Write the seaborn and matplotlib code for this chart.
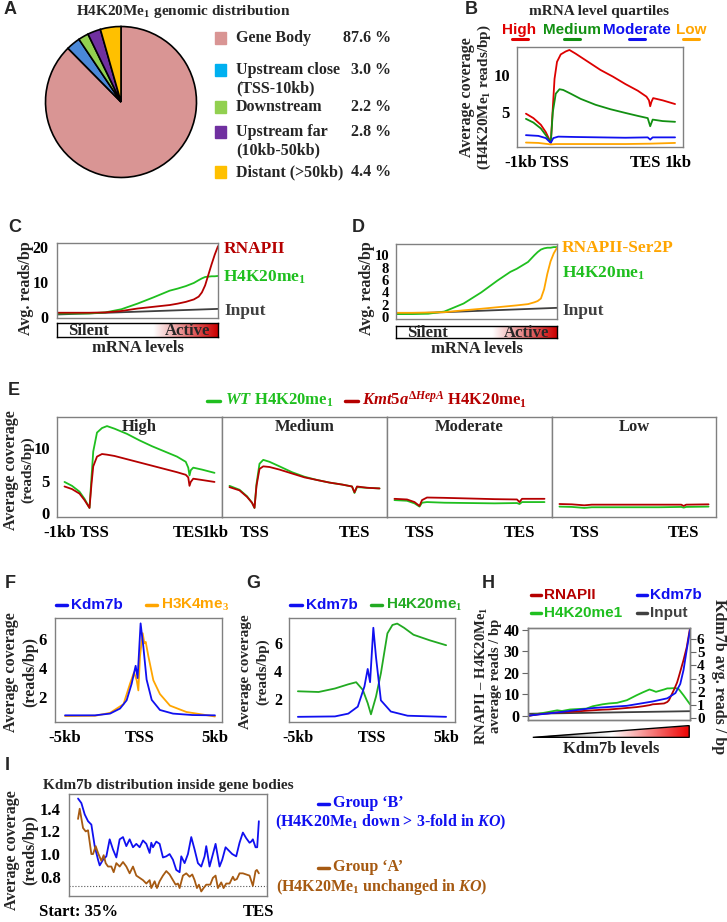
import numpy as np
import matplotlib
matplotlib.use("Agg")
import matplotlib.pyplot as plt
import seaborn as sns
from matplotlib.lines import Line2D
from matplotlib.patches import Rectangle, Polygon
from matplotlib.colors import LinearSegmentedColormap
from matplotlib.transforms import ScaledTranslation

# ---------------- data ----------------
# A: genomic distribution
pie_labels = ["Gene Body", "Upstream close\n(TSS-10kb)", "Downstream", "Upstream far\n(10kb-50kb)", "Distant (>50kb)"]
pie_values = [87.6, 3.0, 2.2, 2.8, 4.4]
pie_colors = ["#D99594", "#4A88D8", "#92D050", "#7030A0", "#FFC000"]
pie_legend_colors = ["#D99594", "#00B0F0", "#92D050", "#7030A0", "#FFC000"]

# B: mRNA level quartiles (TSS=0, TES=4)
b_x_high = [-1, -0.7, -0.4, -0.2, 0, 0.08, 0.15, 0.25, 0.4, 0.6, 0.75, 1.0, 1.5, 2.0, 2.5, 3.0, 3.5, 3.85, 3.95, 4.0, 4.05, 4.12, 4.5, 5.0]
b_high = [4.8, 4.2, 3.3, 2.3, 0.9, 5.5, 9.5, 11.8, 12.8, 13.2, 13.4, 12.9, 11.8, 10.7, 9.8, 8.8, 7.9, 7.1, 6.6, 5.8, 6.4, 6.9, 6.6, 6.1]
b_x_med = [-1, -0.7, -0.4, -0.2, 0, 0.08, 0.2, 0.35, 0.5, 0.8, 1.2, 1.8, 2.4, 3.0, 3.5, 3.9, 4.0, 4.1, 4.5, 5.0]
b_med = [4.1, 3.6, 2.8, 1.9, 0.9, 5.0, 7.5, 8.1, 8.0, 7.5, 6.8, 6.0, 5.4, 4.9, 4.5, 4.2, 3.1, 4.0, 3.8, 3.7]
b_x_mod = [-1, -0.5, -0.2, 0, 0.1, 0.3, 1.0, 2.0, 3.0, 3.9, 4.0, 4.1, 5.0]
b_mod = [1.9, 1.8, 1.5, 0.85, 1.5, 1.7, 1.65, 1.6, 1.55, 1.6, 1.3, 1.6, 1.6]
b_x_low = [-1, -0.5, 0, 0.2, 1, 2, 3, 4, 5]
b_low = [0.9, 0.85, 0.65, 0.7, 0.7, 0.7, 0.7, 0.75, 0.85]

# C: RNAPII / H4K20me1 vs mRNA levels
c_x = [0, 0.1, 0.2, 0.3, 0.4, 0.5, 0.6, 0.7, 0.75, 0.8, 0.85, 0.88, 0.9, 0.92, 0.94, 0.96, 0.98, 1.0]
c_rnapii = [1.2, 1.2, 1.2, 1.3, 1.7, 2.4, 2.9, 3.4, 3.8, 4.3, 5.0, 5.8, 7.0, 9.0, 12.0, 15.0, 17.8, 20.2]
c_h4 = [1.0, 1.0, 1.0, 1.3, 2.2, 3.8, 5.6, 7.5, 8.1, 8.8, 9.7, 10.5, 11.0, 11.4, 11.5, 11.6, 11.6, 11.7]
c_x_input = [0, 0.5, 1.0]
c_input = [0.7, 1.5, 2.3]

# D: RNAPII-Ser2P / H4K20me1 vs mRNA levels
d_x = [0, 0.1, 0.2, 0.3, 0.42, 0.53, 0.63, 0.71, 0.75, 0.82, 0.86, 0.88, 0.9, 0.92, 0.94, 0.96, 0.98, 1.0]
d_h4 = [0.5, 0.5, 0.55, 0.9, 2.2, 4.0, 5.9, 7.3, 7.8, 8.9, 10.0, 10.5, 10.9, 11.1, 11.2, 11.2, 11.3, 11.3]
d_ser2p = [0.7, 0.7, 0.75, 0.8, 1.1, 1.35, 1.6, 1.8, 1.9, 2.1, 2.4, 2.6, 3.0, 4.5, 7.0, 9.0, 10.3, 11.2]
d_x_input = [0, 0.5, 1.0]
d_input = [0.5, 1.0, 1.5]

# E: WT vs Kmt5a KO per quartile
e_names = ["High", "Medium", "Moderate", "Low"]
e_x_high = [-1, -0.7, -0.4, -0.2, 0, 0.08, 0.15, 0.3, 0.5, 0.7, 1.0, 1.5, 2.0, 2.5, 3.0, 3.5, 3.85, 3.95, 4.0, 4.05, 4.15, 4.5, 5.0]
e_wt_high = [4.8, 4.2, 3.3, 2.2, 0.8, 5.5, 9.5, 12.4, 13.1, 13.4, 13.0, 12.2, 11.2, 10.3, 9.5, 8.7, 7.9, 7.0, 5.8, 6.6, 7.0, 6.7, 6.2]
e_ko_high = [4.1, 3.7, 3.0, 2.0, 0.8, 4.5, 7.2, 8.7, 9.1, 9.0, 8.8, 8.3, 7.8, 7.3, 6.8, 6.3, 5.9, 5.5, 4.2, 4.8, 5.3, 5.1, 4.8]
e_x_med = [-1, -0.6, -0.3, -0.1, 0, 0.08, 0.2, 0.35, 0.6, 1.0, 1.5, 2.0, 2.5, 3.0, 3.5, 3.9, 4.0, 4.1, 4.5, 5.0]
e_wt_med = [4.2, 3.6, 2.6, 1.6, 0.8, 4.5, 7.6, 8.2, 7.9, 7.2, 6.3, 5.6, 5.1, 4.7, 4.4, 4.1, 3.1, 4.0, 3.9, 3.8]
e_ko_med = [4.0, 3.5, 2.5, 1.6, 0.8, 4.2, 6.8, 7.2, 7.1, 6.7, 6.1, 5.5, 5.1, 4.7, 4.4, 4.1, 3.2, 4.1, 3.9, 3.8]
e_x_mod = [-1, -0.5, -0.2, 0, 0.1, 0.3, 1, 2, 3, 3.9, 4.0, 4.1, 5]
e_wt_mod = [2.0, 1.9, 1.5, 1.0, 1.6, 1.7, 1.6, 1.55, 1.5, 1.55, 1.4, 1.7, 1.7]
e_ko_mod = [2.2, 2.1, 1.7, 1.1, 2.0, 2.4, 2.35, 2.25, 2.15, 2.1, 1.7, 2.2, 2.2]
e_x_low = [-1, -0.5, 0, 0.3, 1, 2, 3, 3.9, 4.0, 4.1, 5]
e_wt_low = [1.0, 0.95, 0.8, 0.9, 0.9, 0.9, 0.9, 0.95, 0.85, 0.95, 1.0]
e_ko_low = [1.4, 1.35, 1.2, 1.3, 1.3, 1.3, 1.3, 1.3, 1.1, 1.3, 1.35]

# F: Kdm7b and H3K4me3 around TSS (kb)
f_x_kdm = [-5, -3, -2, -1.33, -0.89, -0.56, -0.29, -0.16, 0.04, 0.22, 0.44, 0.78, 1.33, 2.2, 3.5, 5]
f_kdm = [0.73, 0.73, 0.85, 1.2, 1.77, 2.9, 4.15, 3.3, 7.08, 5.5, 3.2, 1.8, 1.1, 0.85, 0.75, 0.73]
f_x_h3 = [-5, -3, -2, -1.1, -0.67, -0.4, -0.22, -0.11, 0, 0.18, 0.29, 0.38, 0.56, 0.89, 1.33, 2.0, 3.1, 5]
f_h3 = [0.68, 0.7, 0.9, 1.5, 2.9, 3.7, 3.15, 2.45, 4.8, 6.4, 5.7, 5.8, 4.8, 3.15, 2.2, 1.4, 0.96, 0.65]

# G: Kdm7b and H4K20me1 around TSS (kb)
g_x_h4 = [-5, -3.6, -2.5, -1.6, -1.07, -0.62, -0.29, -0.07, 0.27, 0.6, 1.04, 1.38, 1.7, 2.16, 2.8, 3.9, 5]
g_h4 = [2.55, 2.5, 2.75, 3.05, 3.2, 2.65, 1.7, 0.9, 2.17, 3.84, 6.7, 7.3, 7.4, 7.1, 6.6, 6.2, 5.85]
g_x_kdm = [-5, -2.5, -1.6, -0.96, -0.51, -0.29, -0.13, 0.09, 0.27, 0.6, 1.27, 2.4, 5]
g_kdm = [0.72, 0.75, 0.95, 1.45, 2.9, 4.15, 3.2, 7.1, 5.0, 1.9, 1.1, 0.8, 0.72]

# H: binned by Kdm7b levels
h_x = [0, 0.07, 0.11, 0.18, 0.21, 0.26, 0.36, 0.4, 0.46, 0.5, 0.55, 0.61, 0.67, 0.71, 0.75, 0.77, 0.79, 0.84, 0.86, 0.87, 0.9, 0.92, 0.93, 0.96, 0.98, 1.0]
h_rnapii = [0, 0.8, 1.1, 1.6, 1.7, 1.9, 2.4, 2.6, 2.9, 3.0, 3.3, 3.7, 4.1, 4.5, 5.0, 5.4, 5.5, 5.8, 6.5, 7.3, 12.0, 15.5, 18.0, 26.0, 32.0, 40.8]
h_h4 = [0, 1.1, 1.6, 2.6, 2.3, 3.0, 3.4, 4.5, 5.4, 5.8, 6.1, 7.3, 9.6, 11.0, 12.3, 11.8, 11.2, 12.3, 12.8, 12.8, 12.9, 12.8, 12.5, 9.6, 7.5, 5.4]
h_x_input = [0, 0.5, 1.0]
h_input = [1.0, 1.6, 2.2]
h_x_kdm = [0, 0.2, 0.4, 0.61, 0.77, 0.86, 0.91, 0.94, 0.96, 0.98, 1.0]
h_kdm = [0.18, 0.45, 0.76, 0.93, 1.26, 1.5, 1.9, 2.6, 3.65, 5.2, 6.7]

# I: Kdm7b inside gene bodies (0 = start 35%, 1 = TES)
i_px_b = [235, 245, 255, 265, 275, 285, 295, 300, 310, 320, 330, 340, 350, 360, 370, 380, 390, 400, 410, 420, 430, 440, 450, 455, 460, 470, 480, 490, 500, 510, 520, 530, 540, 545, 555, 565, 575, 585, 595, 605, 615, 620, 630, 640, 648, 660, 668, 678, 688, 698, 710, 720, 730, 740, 750, 755, 760, 768, 773, 778]
i_group_b = [1.49, 1.45, 1.35, 1.29, 1.26, 1.07, 0.95, 0.90, 0.95, 0.98, 1.13, 1.04, 0.97, 1.13, 1.15, 1.07, 1.13, 1.06, 1.09, 1.06, 1.12, 1.09, 1.01, 1.10, 1.06, 1.11, 1.09, 0.97, 0.98, 1.00, 0.95, 0.86, 0.84, 0.98, 0.92, 1.00, 1.15, 1.04, 0.92, 0.89, 0.98, 1.07, 0.89, 1.00, 1.09, 0.89, 0.95, 1.06, 1.03, 1.00, 0.98, 1.10, 1.19, 1.14, 1.10, 1.11, 1.13, 1.06, 1.06, 1.29]
i_px_a = [235, 240, 250, 258, 265, 275, 280, 288, 295, 305, 312, 318, 325, 335, 342, 350, 360, 370, 380, 390, 400, 410, 420, 430, 440, 450, 455, 465, 472, 480, 490, 500, 510, 520, 528, 535, 540, 550, 560, 570, 578, 585, 592, 598, 605, 612, 620, 632, 640, 648, 655, 665, 672, 680, 690, 700, 705, 712, 720, 730, 740, 750, 760, 768, 772, 778]
i_group_a = [1.31, 1.40, 1.23, 1.20, 1.21, 1.00, 1.00, 1.07, 1.01, 0.94, 0.99, 0.92, 0.89, 0.89, 0.84, 0.92, 0.89, 0.93, 0.89, 0.83, 0.89, 0.81, 0.79, 0.77, 0.74, 0.77, 0.70, 0.76, 0.70, 0.76, 0.81, 0.85, 0.82, 0.77, 0.73, 0.74, 0.70, 0.81, 0.83, 0.80, 0.82, 0.77, 0.70, 0.73, 0.67, 0.70, 0.73, 0.73, 0.79, 0.81, 0.70, 0.75, 0.70, 0.74, 0.74, 0.80, 0.77, 0.78, 0.83, 0.83, 0.82, 0.81, 0.72, 0.85, 0.86, 0.83]
i_x_b = [(p - 235) / 543 for p in i_px_b]
i_x_a = [(p - 235) / 543 for p in i_px_a]

# ---------------- style ----------------
sns.set_theme(style="white")
plt.rcParams["font.family"] = ["Liberation Serif", "DejaVu Serif"]
plt.rcParams["font.weight"] = "bold"
plt.rcParams["axes.labelweight"] = "bold"
plt.rcParams["mathtext.fontset"] = "custom"
plt.rcParams["mathtext.rm"] = "Liberation Serif:bold"
plt.rcParams["mathtext.it"] = "Liberation Serif:italic:bold"
plt.rcParams["mathtext.bf"] = "Liberation Serif:bold"
plt.rcParams["mathtext.default"] = "rm"

DKRED = "#B50000"
GREEN = "#1FBF1F"
DKGREEN = "#129012"
BLUE = "#1010F0"
ORANGE = "#FFA500"
BROWN = "#A65A12"
GREY = "#404040"
SANS = ["Liberation Sans", "DejaVu Sans"]

W, H = 727, 922
fig = plt.figure(figsize=(W / 100, H / 100), dpi=100)


def add_ax(x0, y0, x1, y1):
    return fig.add_axes([x0 / W, 1 - y1 / H, (x1 - x0) / W, (y1 - y0) / H])


def ftext(x, y, s, **kw):
    kw.setdefault("va", "center")
    fig.text(x / W, 1 - y / H, s, **kw)


def fline(x0, x1, y, color, lw=2.5):
    fig.add_artist(Line2D([x0 / W, x1 / W], [1 - y / H] * 2, color=color, lw=lw,
                          transform=fig.transFigure))


def style(ax, size=11):
    for sp in ax.spines.values():
        sp.set_color("#808080")
        sp.set_linewidth(1.0)
    ax.tick_params(direction="out", length=4, width=0.8, color="#666666",
                   labelsize=size, labelcolor="black", pad=2)
    ax.set_xlabel("")
    ax.set_ylabel("")


def shift_xlabels(ax, offsets):
    # nudge tick labels sideways (pixels) so neighbouring labels do not collide
    for lab, dx in zip(ax.get_xticklabels(), offsets):
        lab.set_transform(lab.get_transform() + ScaledTranslation(dx / 100, 0, fig.dpi_scale_trans))


def letter(x, y, s):
    ftext(x, y, s, family=SANS, fontsize=13, fontweight="bold", ha="left")


def line(ax, x, y, color, lw=1.3):
    sns.lineplot(x=x, y=y, ax=ax, color=color, lw=lw, legend=False)


# ---------------- A ----------------
letter(4, 10, "A")
ftext(183, 11, "H4K20Me$_1$ genomic distribution", ha="center", fontsize=11)
axA = add_ax(44, 25, 198, 179)
axA.pie(pie_values, colors=pie_colors, startangle=90, counterclock=False,
        wedgeprops=dict(edgecolor="black", linewidth=1.2))
axA.set_xlim(-1.02, 1.02)
axA.set_ylim(-1.02, 1.02)
axA.set_aspect("equal")
rows_y = [38.5, 70, 107, 132.5, 172]
for lab, val, col, yy in zip(pie_labels, pie_values, pie_legend_colors, rows_y):
    fig.add_artist(Rectangle((215 / W, 1 - (yy + 6) / H), 11 / W, 12 / H, color=col,
                             transform=fig.transFigure))
    parts = lab.split("\n")
    ftext(236, yy, parts[0], ha="left", fontsize=11.5)
    if len(parts) > 1:
        ftext(236, yy + 18, parts[1], ha="left", fontsize=11.5)
    ftext(391, yy, f"{val:.1f} %", ha="right", fontsize=11.5)

# ---------------- B ----------------
letter(465, 10, "B")
ftext(599, 11, "mRNA level quartiles", ha="center", fontsize=11)
for name, col, x0, x1 in [("High", "#E00000", 503, 536), ("Medium", DKGREEN, 545, 599),
                           ("Moderate", BLUE, 605, 668), ("Low", ORANGE, 677, 705)]:
    ftext((x0 + x1) / 2, 30, name, ha="center", color=col, family=SANS, fontsize=11, fontweight="bold")
    cx = (x0 + x1) / 2
    fline(cx - 8, cx + 8, 39.5, col, lw=2.2)
axB = add_ax(517, 47, 683, 147)
line(axB, b_x_high, b_high, "#DD0000")
line(axB, b_x_med, b_med, DKGREEN)
line(axB, b_x_mod, b_mod, BLUE)
line(axB, b_x_low, b_low, ORANGE)
axB.set_xlim(-1.36, 5.32)
axB.set_ylim(0.3, 13.8)
axB.set_yticks([5, 10])
axB.set_xticks([-1, 0, 4, 5], ["-1kb", "TSS", "TES", "1kb"])
style(axB, 12)
axB.tick_params(axis="y", pad=1)
shift_xlabels(axB, [-5, 4, -5, 3])
ftext(467, 97, "Average coverage", rotation=90, ha="center", fontsize=11.5)
ftext(484, 97, "(H4K20Me$_1$ reads/bp)", rotation=90, ha="center", fontsize=11)


# ---------------- C / D ----------------
def activity_bar(x0, y0, x1, y1):
    axc = add_ax(x0, y0, x1, y1)
    cmap = LinearSegmentedColormap.from_list("act", [(0, "white"), (0.6, "white"), (1, "#CC0000")])
    axc.imshow(np.linspace(0, 1, 256)[None, :], aspect="auto", cmap=cmap, extent=[0, 1, 0, 1])
    axc.set_xticks([])
    axc.set_yticks([])
    for sp in axc.spines.values():
        sp.set_color("black")
        sp.set_linewidth(1.0)
    axc.text(0.07, 0.45, "Silent", transform=axc.transAxes, ha="left", va="center", fontsize=12)
    axc.text(0.95, 0.45, "Active", transform=axc.transAxes, ha="right", va="center", fontsize=12)
    return axc


letter(8, 227, "C")
axC = add_ax(57, 243, 218, 318)
line(axC, c_x_input, c_input, GREY)
line(axC, c_x, c_h4, GREEN)
line(axC, c_x, c_rnapii, DKRED)
axC.set_xlim(0, 1)
axC.set_ylim(-0.3, 21.1)
axC.set_yticks([0, 5, 10, 15, 20], ["0", "", "10", "", "20"])
axC.set_xticks([])
style(axC, 11.5)
activity_bar(57, 323, 218, 337)
ftext(137.5, 348, "mRNA levels", ha="center", fontsize=12)
ftext(26, 288, "Avg. reads/bp", rotation=90, ha="center", fontsize=11.5)
ftext(224, 249, "RNAPII", ha="left", color=DKRED, fontsize=12.5)
ftext(223, 277, "H4K20me$_1$", ha="left", color=GREEN, fontsize=12.5)
ftext(224, 311, "Input", ha="left", color=GREY, fontsize=12.5)

letter(352, 227, "D")
axD = add_ax(396, 244, 557, 319)
line(axD, d_x_input, d_input, GREY)
line(axD, d_x, d_h4, GREEN)
line(axD, d_x, d_ser2p, ORANGE)
axD.set_xlim(0, 1)
axD.set_ylim(-0.3, 11.8)
axD.set_yticks([0, 2, 4, 6, 8, 10])
axD.set_xticks([])
style(axD, 10.5)
axD.tick_params(axis="y", pad=1)
activity_bar(396, 326, 557, 338)
ftext(476.5, 349, "mRNA levels", ha="center", fontsize=12)
ftext(367, 288, "Avg. reads/bp", rotation=90, ha="center", fontsize=11.5)
ftext(562, 248, "RNAPII-Ser2P", ha="left", color=ORANGE, fontsize=12.5)
ftext(562, 273, "H4K20me$_1$", ha="left", color=GREEN, fontsize=12.5)
ftext(562, 311, "Input", ha="left", color=GREY, fontsize=12.5)

# ---------------- E ----------------
letter(8, 390, "E")
fline(207, 220, 401, GREEN, lw=2.5)
ftext(225, 400, r"$\mathit{WT}$ H4K20me$_1$", ha="left", color=GREEN, fontsize=12)
fline(345, 358, 401, DKRED, lw=2.5)
ftext(362, 400, r"$\mathit{Kmt5a}^{\mathit{\Delta HepA}}$ H4K20me$_1$", ha="left", color=DKRED, fontsize=12)
e_sets = [(e_x_high, e_wt_high, e_ko_high), (e_x_med, e_wt_med, e_ko_med),
          (e_x_mod, e_wt_mod, e_ko_mod), (e_x_low, e_wt_low, e_ko_low)]
e_bounds = [(57, 222), (222, 387), (387, 552), (552, 716)]
for k, ((ex, wt, ko), (x0, x1), nm) in enumerate(zip(e_sets, e_bounds, e_names)):
    ax = add_ax(x0, 417, x1, 517)
    line(ax, ex, wt, GREEN)
    line(ax, ex, ko, DKRED)
    ax.set_xlim(-1.3, 5.3)
    ax.set_ylim(-0.6, 14.8)
    if k == 0:
        ax.set_xticks([-1, 0, 4, 5], ["-1kb", "TSS", "TES", "1kb"])
        ax.set_yticks([0, 5, 10])
    else:
        ax.set_xticks([-1, 0, 4, 5], ["", "TSS", "TES", ""])
        ax.set_yticks([])
    style(ax, 12)
    if k == 0:
        shift_xlabels(ax, [-5, 5, -1, 1])
        ax.tick_params(axis="y", pad=1)
    ax.text(0.5, 0.9, nm, transform=ax.transAxes, ha="center", va="center", fontsize=12)
ftext(11, 470, "Average coverage", rotation=90, ha="center", fontsize=11.5)
ftext(28, 470, "(reads/bp)", rotation=90, ha="center", fontsize=11)

# ---------------- F ----------------
letter(5, 583, "F")
fline(56, 67, 605, BLUE)
ftext(71, 605, "Kdm7b", ha="left", color=BLUE, family=SANS, fontsize=11, fontweight="bold")
fline(146, 157, 605, ORANGE)
ftext(161, 605, "H3K4me$_3$", ha="left", color=ORANGE, family=SANS, fontsize=11, fontweight="bold")
axF = add_ax(55, 618, 222, 722)
line(axF, f_x_h3, f_h3, ORANGE)
line(axF, f_x_kdm, f_kdm, BLUE)
axF.set_xlim(-5.67, 5.47)
axF.set_ylim(0.27, 7.45)
axF.set_yticks([2, 4, 6])
axF.set_xticks([-5, 0, 5], ["-5kb", "TSS", "5kb"])
style(axF, 12)
ftext(11, 672, "Average coverage", rotation=90, ha="center", fontsize=11.5)
ftext(30, 672, "(reads/bp)", rotation=90, ha="center", fontsize=11.5)

# ---------------- G ----------------
letter(246, 583, "G")
fline(290, 302, 605, BLUE)
ftext(306, 605, "Kdm7b", ha="left", color=BLUE, family=SANS, fontsize=11, fontweight="bold")
fline(371, 382, 605, "#22AA22")
ftext(386, 605, "H4K20me$_1$", ha="left", color="#22AA22", family=SANS, fontsize=11, fontweight="bold")
axG = add_ax(289, 618, 455, 722)
line(axG, g_x_h4, g_h4, "#22AA22")
line(axG, g_x_kdm, g_kdm, BLUE)
axG.set_xlim(-5.6, 5.6)
axG.set_ylim(0.35, 7.8)
axG.set_yticks([2, 4, 6])
axG.set_xticks([-5, 0, 5], ["-5kb", "TSS", "5kb"])
style(axG, 11.5)
axG.tick_params(axis="y", pad=1)
ftext(246, 672, "Average coverage", rotation=90, ha="center", fontsize=11)
ftext(263, 672, "(reads/bp)", rotation=90, ha="center", fontsize=11)

# ---------------- H ----------------
letter(482, 583, "H")
for lab, col, x0, yy in [("RNAPII", DKRED, 531, 595), ("Kdm7b", BLUE, 637, 595),
                          ("H4K20me1", GREEN, 531, 613), ("Input", GREY, 637, 613)]:
    fline(x0, x0 + 10, yy, col)
    ftext(x0 + 13, yy, lab, ha="left", color=col, family=SANS, fontsize=11, fontweight="bold")
axH = add_ax(528, 628, 690, 720)
line(axH, h_x_input, h_input, GREY)
line(axH, h_x, h_h4, GREEN)
line(axH, h_x, h_rnapii, DKRED)
axH.set_xlim(0, 1)
axH.set_ylim(-1.9, 40.9)
axH.set_yticks([0, 10, 20, 30, 40])
axH.set_xticks([])
style(axH, 11.5)
axH2 = axH.twinx()
line(axH2, h_x_kdm, h_kdm, BLUE)
axH2.set_ylim(-0.15, 6.85)
axH2.set_yticks([0, 1, 2, 3, 4, 5, 6])
style(axH2, 11)
axH2.tick_params(axis="y", pad=1)
ftext(482, 676, "RNAPII – H4K20Me$_1$", rotation=90, ha="center", fontsize=10.5)
ftext(496, 676, "average reads / bp", rotation=90, ha="center", fontsize=10.5)
ftext(719, 677, "Kdm7b avg. reads / bp", rotation=270, ha="center", fontsize=11.5)
axT = add_ax(532, 725, 690, 738)
tri_cmap = LinearSegmentedColormap.from_list("tri", [(0, "#111111"), (0.3, "#cccccc"),
                                                      (0.5, "white"), (1, "#EE0000")])
im = axT.imshow(np.linspace(0, 1, 256)[None, :], aspect="auto", cmap=tri_cmap, extent=[0, 1, 0, 1])
tri = Polygon([(0, 0), (1, 0), (1, 1)], closed=True, fc="none", ec="black", lw=1.0)
axT.add_patch(tri)
im.set_clip_path(tri)
axT.set_xlim(-0.005, 1.005)
axT.set_ylim(-0.05, 1.05)
axT.axis("off")
ftext(611, 749, "Kdm7b levels", ha="center", fontsize=12)

# ---------------- I ----------------
letter(5, 765, "I")
ftext(43, 785, "Kdm7b distribution inside gene bodies", ha="left", fontsize=11)
axI = add_ax(69, 794, 267, 896)
axI.axhline(0.715, ls=":", color="#555555", lw=0.8)
line(axI, i_x_b, i_group_b, BLUE)
line(axI, i_x_a, i_group_a, BROWN)
axI.set_xlim(-0.05, 1.045)
axI.set_ylim(0.63, 1.53)
axI.set_yticks([0.8, 1.0, 1.2, 1.4], ["0.8", "1.0", "1.2", "1.4"])
axI.set_xticks([0, 1], ["Start: 35%", "TES"])
style(axI, 12)
ftext(12, 850, "Average coverage", rotation=90, ha="center", fontsize=11.5)
ftext(30, 850, "(reads/bp)", rotation=90, ha="center", fontsize=11.5)
fline(318, 329, 804, BLUE)
ftext(333, 803, "Group ‘B’", ha="left", color=BLUE, fontsize=11.5)
ftext(391, 822, r"(H4K20Me$_1$ down > 3-fold in $\mathit{KO}$)", ha="center", color=BLUE, fontsize=11.5)
fline(318, 329, 868, BROWN)
ftext(333, 867, "Group ‘A’", ha="left", color=BROWN, fontsize=11.5)
ftext(382, 887, r"(H4K20Me$_1$ unchanged in $\mathit{KO}$)", ha="center", color=BROWN, fontsize=11.5)

fig.savefig("out.png", dpi=100)
